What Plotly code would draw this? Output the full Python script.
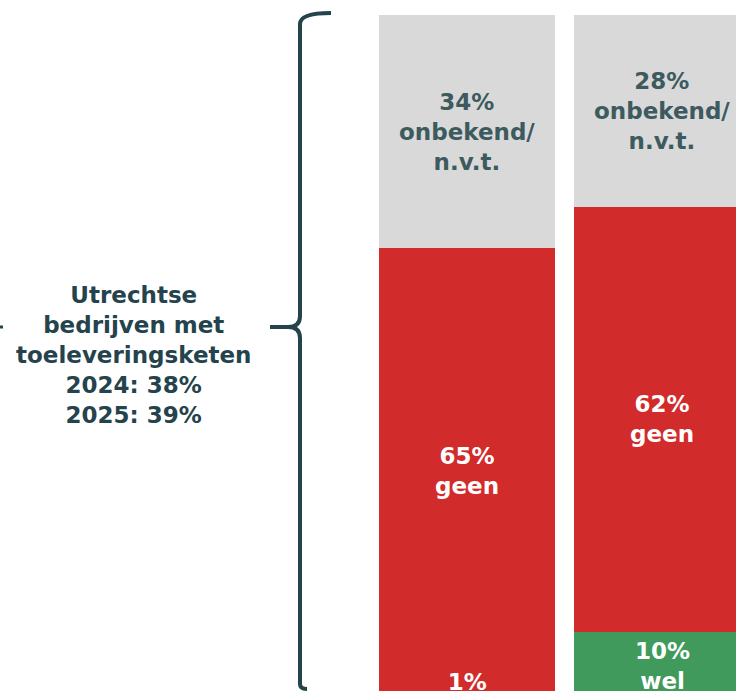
import plotly.graph_objects as go

# data
years = ["2024", "2025"]
wel = [1, 10]
geen = [65, 62]
onbekend = [34, 28]
side_lines = ["Utrechtse", "bedrijven met", "toeleveringsketen", "2024: 38%", "2025: 39%"]

W, H = 736, 691
x_pos = [0, 1]
y_lo, y_hi = 1.36, 102.23
px_per_pct = 6.85

col_wel = "#3f9a5c"
col_geen = "#d22b2b"
col_onb = "#d9d9d9"
dark = "#24434d"
grey_txt = "#3d5a5f"
font_fam = "'DejaVu Sans', sans-serif"
fsize = 23

fig = go.Figure()
for vals, name, col in [(wel, "wel", col_wel), (geen, "geen", col_geen), (onbekend, "onbekend/ n.v.t.", col_onb)]:
    fig.add_trace(go.Bar(
        x=x_pos,
        y=vals,
        name=name,
        width=0.904,
        marker=dict(color=col, line=dict(width=0)),
        hoverinfo="skip",
    ))

# segment labels, centred on each segment
for i in range(len(years)):
    base = 0
    for vals, label, tcol in [(wel, "wel", "white"), (geen, "geen", "white"), (onbekend, "onbekend/<br>n.v.t.", grey_txt)]:
        v = vals[i]
        yc = base + v / 2
        # plotly hides annotations anchored outside the range, so pin and shift
        ya = max(yc, y_lo + 0.2)
        fig.add_annotation(
            x=x_pos[i], y=ya,
            yshift=-(ya - yc) * px_per_pct,
            text="{}%<br>{}".format(v, label),
            showarrow=False,
            font=dict(family=font_fam, size=fsize, color=tcol, weight="bold"),
            align="center",
        )
        base += v

# brace (pixel coords -> paper)
def px(x):
    return x / W

def py(y):
    return 1 - y / H

pts = [
    ("M", [(331, 13)]),
    ("Q", [(300, 13), (300, 24)]),
    ("L", [(300, 316)]),
    ("Q", [(300, 327), (288, 327)]),
    ("L", [(270, 327)]),
    ("M", [(288, 327)]),
    ("Q", [(300, 327), (300, 338)]),
    ("L", [(300, 684)]),
    ("Q", [(300, 689), (307, 689)]),
]
path = " ".join(c + " " + " ".join("{:.5f},{:.5f}".format(px(a), py(b)) for a, b in p) for c, p in pts)
fig.add_shape(type="path", path=path, xref="paper", yref="paper",
              line=dict(color=dark, width=4))
fig.add_shape(type="line", xref="paper", yref="paper",
              x0=px(0), x1=px(3), y0=py(327), y1=py(327),
              line=dict(color=dark, width=3))

fig.add_annotation(
    xref="paper", yref="paper",
    x=px(133), y=py(355),
    xanchor="center", yanchor="middle",
    text="<br>".join(side_lines),
    showarrow=False,
    font=dict(family=font_fam, size=fsize, color=dark, weight="bold"),
    align="center",
)

fig.update_layout(
    width=W, height=H,
    barmode="stack",
    bargap=0,
    showlegend=False,
    margin=dict(l=0, r=0, t=0, b=0),
    plot_bgcolor="white",
    paper_bgcolor="white",
    xaxis=dict(range=[-2.400, 1.380], visible=False, fixedrange=True),
    yaxis=dict(range=[y_lo, y_hi], visible=False, fixedrange=True),
)

# page body margin would shift the figure by 8px
fig.write_html("out.html", config={"displayModeBar": False},
               post_script="document.body.style.margin='0';")
